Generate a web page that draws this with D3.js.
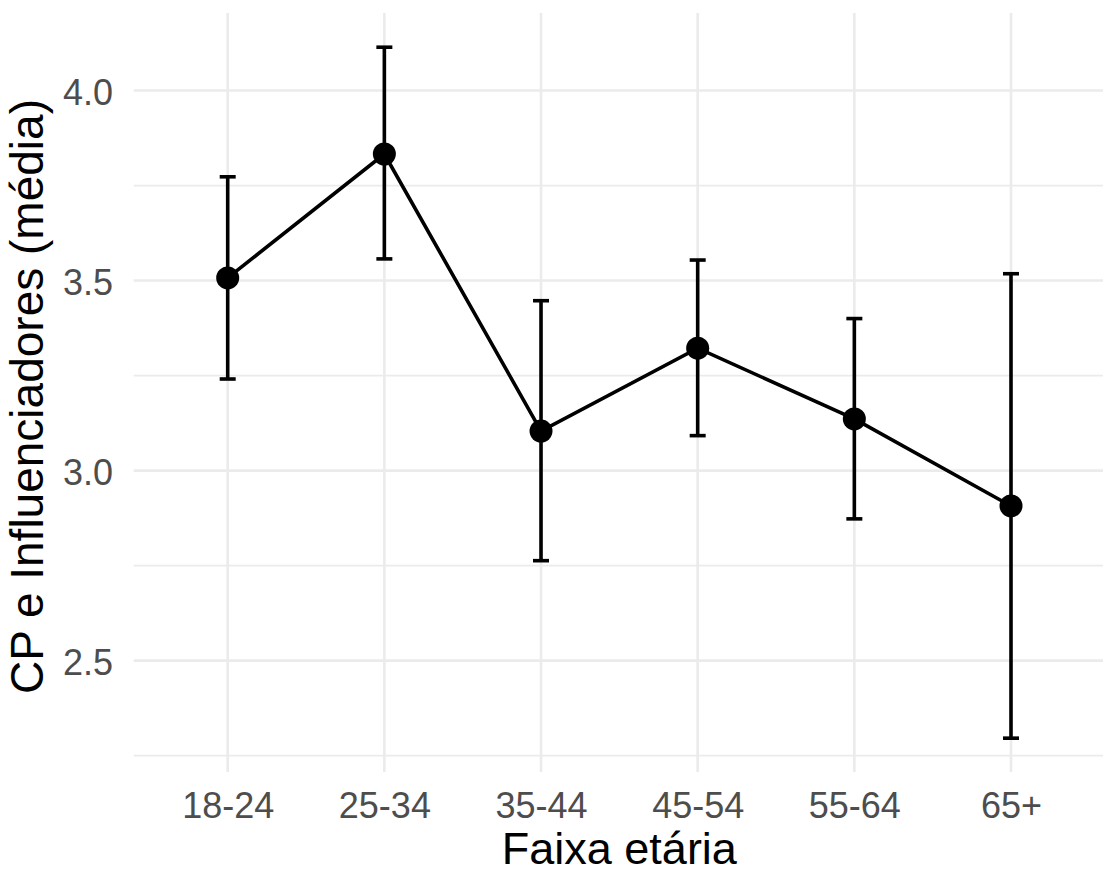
<!DOCTYPE html>
<html>
<head>
<meta charset="utf-8">
<script src="https://cdn.jsdelivr.net/npm/d3@7"></script>
<style>
  body { margin: 0; background: #fff; }
  text { font-family: "Liberation Sans", Arial, sans-serif; }
</style>
</head>
<body>
<script>
const ages = ['18-24', '25-34', '35-44', '45-54', '55-64', '65+'];
const means = [3.507, 3.833, 3.104, 3.322, 3.136, 2.907];
const lower = [3.241, 3.557, 2.763, 3.092, 2.873, 2.296];
const upper = [3.773, 4.114, 3.447, 3.554, 3.400, 3.518];
const yTicks = [2.5, 3.0, 3.5, 4.0];
const yMinor = [2.25, 2.75, 3.25, 3.75];

const w = 1103;
const h = 873;
const pL = 133.7, pR = 1105, pT = 13, pB = 772;

const data = ages.map((a, i) => ({age: a, m: means[i], lo: lower[i], hi: upper[i]}));

const xScale = d3.scalePoint().domain(ages).range([pL, pR]).padding(0.6);
const yScale = d3.scaleLinear().domain([2.207, 4.204]).range([pB, pT]);

const svg = d3.select('body')
              .append('svg')
              .attr('width', w)
              .attr('height', h)

// grid
svg.append('g').selectAll('line')
    .data(yMinor)
    .enter()
    .append('line')
    .attr('x1', pL).attr('x2', pR)
    .attr('y1', d => yScale(d)).attr('y2', d => yScale(d))
    .attr('stroke', '#EBEBEB').attr('stroke-width', 1.8)

svg.append('g').selectAll('line')
    .data(yTicks)
    .enter()
    .append('line')
    .attr('x1', pL).attr('x2', pR)
    .attr('y1', d => yScale(d)).attr('y2', d => yScale(d))
    .attr('stroke', '#EBEBEB').attr('stroke-width', 2.6)

svg.append('g').selectAll('line')
    .data(ages)
    .enter()
    .append('line')
    .attr('x1', d => xScale(d)).attr('x2', d => xScale(d))
    .attr('y1', pT).attr('y2', pB)
    .attr('stroke', '#EBEBEB').attr('stroke-width', 2.6)

// error bars
const eb = svg.append('g').attr('stroke', '#000').attr('stroke-width', 3.6);
eb.selectAll('.v')
    .data(data)
    .enter()
    .append('line')
    .attr('x1', d => xScale(d.age)).attr('x2', d => xScale(d.age))
    .attr('y1', d => yScale(d.lo)).attr('y2', d => yScale(d.hi))
eb.selectAll('.capHi')
    .data(data)
    .enter()
    .append('line')
    .attr('x1', d => xScale(d.age) - 8).attr('x2', d => xScale(d.age) + 8)
    .attr('y1', d => yScale(d.hi)).attr('y2', d => yScale(d.hi))
eb.selectAll('.capLo')
    .data(data)
    .enter()
    .append('line')
    .attr('x1', d => xScale(d.age) - 8).attr('x2', d => xScale(d.age) + 8)
    .attr('y1', d => yScale(d.lo)).attr('y2', d => yScale(d.lo))

// line + points
const line = d3.line().x(d => xScale(d.age)).y(d => yScale(d.m));
svg.append('path')
    .datum(data)
    .attr('d', line)
    .attr('fill', 'none')
    .attr('stroke', '#000')
    .attr('stroke-width', 3.6)

svg.selectAll('circle')
    .data(data)
    .enter()
    .append('circle')
    .attr('cx', d => xScale(d.age))
    .attr('cy', d => yScale(d.m))
    .attr('r', 11.5)
    .attr('fill', '#000')

// axes (tick text only, like ggplot theme_minimal)
const x_axis = d3.axisBottom(xScale).tickSize(0).tickPadding(0);
const gx = svg.append('g').attr('transform', `translate(0, ${pB})`).call(x_axis);
gx.select('.domain').remove();
gx.selectAll('text')
    .attr('fill', '#4D4D4D')
    .attr('font-size', 36)
    .attr('y', 46)
    .attr('dy', 0)

const y_axis = d3.axisLeft(yScale).tickValues(yTicks).tickFormat(d3.format('.1f')).tickSize(0).tickPadding(0);
const gy = svg.append('g').attr('transform', `translate(113, 0)`).call(y_axis);
gy.select('.domain').remove();
gy.selectAll('text')
    .attr('fill', '#4D4D4D')
    .attr('font-size', 36)
    .attr('dy', 14)

// titles
svg.append('text')
    .text('Faixa etária')
    .attr('x', (pL + pR) / 2)
    .attr('y', 864)
    .attr('text-anchor', 'middle')
    .attr('font-size', 45)
    .attr('fill', '#000')

svg.append('text')
    .text('CP e Influenciadores (média)')
    .attr('transform', `translate(43, ${(pT + pB) / 2 + 4}) rotate(-90)`)
    .attr('text-anchor', 'middle')
    .attr('font-size', 46)
    .attr('fill', '#000')
</script>
</body>
</html>
